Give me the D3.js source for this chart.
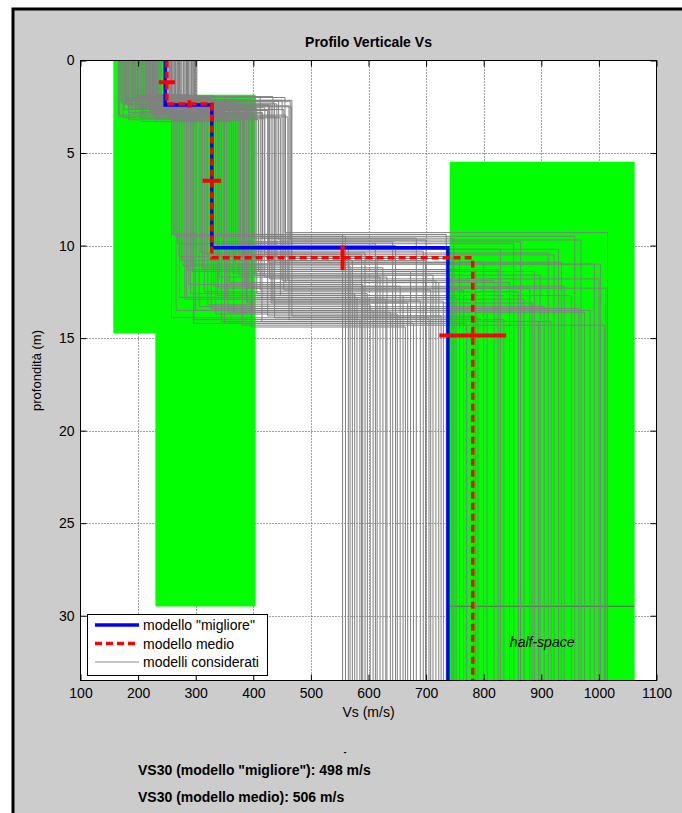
<!DOCTYPE html>
<html>
<head>
<meta charset="utf-8">
<script src="https://cdn.jsdelivr.net/npm/d3@7"></script>
<style>
  html, body { margin: 0; background: #ffffff; overflow: hidden; }
  svg { display: block; }
  svg text { font-family: "Liberation Sans", Arial, sans-serif; }
</style>
</head>
<body>
<div id="chart"></div>
<script>
// ticks
const xTicks = [100, 200, 300, 400, 500, 600, 700, 800, 900, 1000, 1100];
const yTicks = [0, 5, 10, 15, 20, 25, 30];

// search-space bands (green)
const bandVsMin = [157, 230, 741];
const bandVsMax = [245, 404, 1062];
const bandTop = [0, 1.85, 5.47];
const bandBottom = [14.75, 29.5, 33.5];

// best model and mean model (Vs per layer, interface depths)
const bestVs = [247, 328, 738];
const bestDepth = [2.4, 10.12];
const meanVs = [250, 328, 781];
const meanDepth = [2.35, 10.66];

// error bars on mean model
const vsErrDepth = [1.17, 6.5, 14.86];
const vsErr = [14, 16, 58];
const depthErrVs = [289, 555];
const depthErr = [0.2, 0.67];

// considered models: Vs of layer 1, depth of interface 1, Vs layer 2, depth interface 2, Vs half-space
const vs1 = [172, 180, 188, 195, 203, 210, 218, 225, 232, 238, 255, 262, 270, 278, 285, 292, 300, 176, 184, 192, 199, 207, 214, 221, 229, 236, 258, 266, 274, 281, 288, 296, 168, 190, 205, 228, 260, 275, 290, 183, 215, 240, 265, 298, 178, 200, 222, 250,
             170, 174, 186, 194, 198, 206, 212, 220, 226, 234, 252, 258, 268, 272, 283, 287, 294, 302, 166, 182, 196, 209, 217, 224, 231, 256, 263, 279, 286, 299, 175, 189, 201, 213, 227, 254, 269, 284, 293, 171];
const d1 = [2.1, 2.4, 1.9, 2.8, 3.1, 2.2, 2.6, 2.0, 3.3, 2.5, 2.3, 2.9, 1.95, 2.7, 3.0, 2.15, 2.45, 2.65, 3.2, 2.05, 2.35, 2.75, 1.9, 2.55, 3.05, 2.25, 2.85, 2.0, 2.6, 3.15, 2.4, 2.2, 2.95, 2.5, 1.88, 2.7, 3.25, 2.3, 2.1, 2.8, 2.45, 2.0, 3.0, 2.6, 2.35, 1.95, 2.9, 2.55,
            2.2, 3.1, 2.6, 1.9, 2.4, 3.3, 2.0, 2.7, 2.9, 2.3, 3.0, 2.5, 2.1, 3.2, 2.8, 1.95, 2.35, 2.65, 3.05, 2.15, 2.55, 2.95, 1.85, 2.45, 3.15, 2.05, 2.75, 2.25, 3.25, 2.6, 2.0, 2.85, 2.4, 3.1, 2.2, 2.7, 1.9, 2.5, 3.0, 2.3];
const vs2 = [262, 275, 288, 300, 312, 325, 338, 350, 362, 375, 388, 400, 412, 425, 438, 450, 462, 268, 281, 294, 306, 318, 331, 344, 356, 369, 381, 394, 406, 419, 431, 444, 456, 466, 258, 285, 315, 345, 372, 398, 428, 455, 272, 302, 335, 365, 392, 420,
             264, 278, 291, 297, 309, 321, 334, 341, 353, 366, 378, 385, 397, 409, 416, 434, 441, 453, 460, 467, 259, 271, 284, 296, 311, 327, 348, 359, 377, 389, 403, 415, 426, 447, 464, 266, 292, 339, 383, 437];
const d2 = [9.4, 10.8, 12.1, 13.5, 11.2, 9.8, 12.7, 14.2, 10.3, 11.6, 13.0, 9.6, 12.4, 13.8, 10.9, 11.9, 14.0, 9.9, 12.9, 11.4, 13.3, 10.5, 12.2, 9.5, 13.6, 11.0, 14.3, 10.1, 12.6, 11.7, 13.1, 9.7, 12.0, 10.7, 13.9, 11.3, 12.5, 14.1, 10.2, 13.4, 11.8, 9.3, 12.8, 10.6, 13.7, 11.5, 12.3, 10.4,
            9.5, 11.1, 12.6, 14.0, 10.4, 13.2, 9.9, 11.7, 12.9, 13.6, 10.0, 12.2, 14.4, 11.4, 9.6, 13.0, 10.8, 12.4, 11.9, 13.8, 9.4, 10.6, 12.8, 14.2, 11.3, 13.4, 10.2, 12.0, 9.8, 13.1, 11.6, 14.1, 10.9, 12.7, 9.7, 13.5, 11.0, 12.3, 10.5, 13.9];
const vs3 = [555, 572, 590, 608, 625, 642, 660, 678, 695, 712, 730, 748, 765, 782, 800, 818, 835, 852, 870, 888, 905, 922, 940, 958, 975, 992, 1010, 565, 598, 632, 668, 700, 722, 758, 790, 825, 860, 895, 930, 965, 1000, 1015, 580, 615, 650, 740, 880, 912,
             560, 568, 576, 585, 594, 603, 612, 620, 630, 638, 647, 655, 664, 673, 683, 690, 699, 708, 717, 726, 735, 745, 752, 770, 786, 806, 829, 845, 864, 884, 898, 917, 935, 952, 969, 985, 1003, 1012, 588, 705];

const legendLabels = ['modello "migliore"', "modello medio", "modelli considerati"];
const vs30Lines = ['VS30 (modello "migliore"): 498 m/s', "VS30 (modello medio): 506 m/s"];

function init() {
    var width = 682, height = 813;
    var left = 80.5, right = 656.5, top = 60.5, bottom = 680.5;

    var svg = d3.select("#chart").append("svg")
        .attr("width", width)
        .attr("height", height);

    // figure background and frame
    svg.append("rect").attr("x", 13).attr("y", 9).attr("width", 680).attr("height", 820)
        .attr("fill", "#cccccc").attr("stroke", "#000").attr("stroke-width", 3);

    var x = d3.scaleLinear().domain([100, 1100]).range([left, right]);
    var y = d3.scaleLinear().domain([0, 33.5]).range([top, bottom]);

    svg.append("rect").attr("x", left).attr("y", top)
        .attr("width", right - left).attr("height", bottom - top).attr("fill", "#fff");

    svg.append("clipPath").attr("id", "clip").append("rect")
        .attr("x", left).attr("y", top).attr("width", right - left).attr("height", bottom - top);

    // grid
    var grid = svg.append("g").attr("stroke", "#444").attr("stroke-dasharray", "1,2").attr("stroke-width", 1);
    grid.selectAll(".gx").data(xTicks.slice(1, -1)).enter().append("line")
        .attr("x1", d => Math.round(x(d)) + 0.5).attr("x2", d => Math.round(x(d)) + 0.5)
        .attr("y1", top).attr("y2", bottom);
    grid.selectAll(".gy").data(yTicks.slice(1)).enter().append("line")
        .attr("y1", d => Math.round(y(d)) + 0.5).attr("y2", d => Math.round(y(d)) + 0.5)
        .attr("x1", left).attr("x2", right);

    var plot = svg.append("g").attr("clip-path", "url(#clip)");

    // green bands
    plot.selectAll(".band").data(bandVsMin).enter().append("rect")
        .attr("x", (d, i) => x(d))
        .attr("y", (d, i) => y(bandTop[i]))
        .attr("width", (d, i) => x(bandVsMax[i]) - x(d))
        .attr("height", (d, i) => y(bandBottom[i]) - y(bandTop[i]))
        .attr("fill", "#00ff00");

    plot.append("line")
        .attr("x1", x(bandVsMin[2])).attr("x2", x(bandVsMax[2]))
        .attr("y1", y(bandBottom[1])).attr("y2", y(bandBottom[1]))
        .attr("stroke", "#4f7f4f").attr("stroke-width", 1.2);

    // considered models
    var line = d3.line().x(d => x(d[0])).y(d => y(d[1]));
    function profile(v, d) {
        return [[v[0], 0], [v[0], d[0]], [v[1], d[0]], [v[1], d[1]], [v[2], d[1]], [v[2], 33.5]];
    }
    var models = vs1.map((v, i) => profile([v, vs2[i], vs3[i]], [d1[i], d2[i]]));
    plot.selectAll(".model").data(models).enter().append("path")
        .attr("d", line).attr("fill", "none")
        .attr("stroke", "#808080").attr("stroke-width", 1);

    plot.append("text")
        .attr("x", x((bandVsMin[2] + bandVsMax[2]) / 2)).attr("y", y(31.7))
        .attr("text-anchor", "middle").attr("font-size", 14).attr("font-style", "italic")
        .text("half-space");

    // best model
    plot.append("path").datum(profile(bestVs, bestDepth))
        .attr("d", line).attr("fill", "none")
        .attr("stroke", "#0000ff").attr("stroke-width", 3.5);

    // mean model
    plot.append("path").datum(profile(meanVs, meanDepth))
        .attr("d", line).attr("fill", "none")
        .attr("stroke", "#ff0000").attr("stroke-width", 3.5)
        .attr("stroke-dasharray", "7,4");

    // error bars
    plot.selectAll(".vsErr").data(meanVs).enter().append("line")
        .attr("x1", (d, i) => x(d - vsErr[i])).attr("x2", (d, i) => x(d + vsErr[i]))
        .attr("y1", (d, i) => y(vsErrDepth[i])).attr("y2", (d, i) => y(vsErrDepth[i]))
        .attr("stroke", "#ff0000").attr("stroke-width", 4);
    plot.selectAll(".dErr").data(meanDepth).enter().append("line")
        .attr("x1", (d, i) => x(depthErrVs[i])).attr("x2", (d, i) => x(depthErrVs[i]))
        .attr("y1", (d, i) => y(d - depthErr[i])).attr("y2", (d, i) => y(d + depthErr[i]))
        .attr("stroke", "#ff0000").attr("stroke-width", 4);

    // axes
    svg.append("rect").attr("x", left).attr("y", top)
        .attr("width", right - left).attr("height", bottom - top)
        .attr("fill", "none").attr("stroke", "#000").attr("stroke-width", 1);

    var fmt = d3.format("d");
    var xb = svg.append("g").attr("transform", `translate(0,${bottom})`)
        .call(d3.axisBottom(x).tickValues(xTicks).tickFormat(fmt).tickSizeInner(-6).tickSizeOuter(0).tickPadding(8));
    var xt = svg.append("g").attr("transform", `translate(0,${top})`)
        .call(d3.axisTop(x).tickValues(xTicks).tickSizeInner(-6).tickSizeOuter(0).tickFormat(""));
    var yl = svg.append("g").attr("transform", `translate(${left},0)`)
        .call(d3.axisLeft(y).tickValues(yTicks).tickFormat(fmt).tickSizeInner(-6).tickSizeOuter(0).tickPadding(6));
    var yr = svg.append("g").attr("transform", `translate(${right},0)`)
        .call(d3.axisRight(y).tickValues(yTicks).tickSizeInner(-6).tickSizeOuter(0).tickFormat(""));
    [xb, xt, yl, yr].forEach(function(g) {
        g.select(".domain").remove();
        g.selectAll("text").attr("font-size", 14).attr("fill", "#000")
            .style("font-family", '"Liberation Sans", Arial, sans-serif');
    });

    svg.append("text").attr("x", (left + right) / 2).attr("y", 47)
        .attr("text-anchor", "middle").attr("font-size", 14).attr("font-weight", "bold")
        .text("Profilo Verticale Vs");
    svg.append("text").attr("x", (left + right) / 2).attr("y", 717)
        .attr("text-anchor", "middle").attr("font-size", 14)
        .text("Vs (m/s)");
    svg.append("text").attr("transform", `translate(41,${(top + bottom) / 2}) rotate(-90)`)
        .attr("text-anchor", "middle").attr("font-size", 13)
        .text("profondità (m)");

    // legend
    var lg = svg.append("g");
    lg.append("rect").attr("x", 87.5).attr("y", 614.5).attr("width", 180).attr("height", 61)
        .attr("fill", "#fff").attr("stroke", "#000").attr("stroke-width", 1);
    var legStroke = ["#0000ff", "#ff0000", "#8a8a8a"];
    var legWidth = [3.5, 3.5, 1];
    var legDash = [null, "7,4", null];
    legendLabels.forEach(function(t, i) {
        var ly = 625 + i * 18.5;
        lg.append("line").attr("x1", 95).attr("x2", 139).attr("y1", ly).attr("y2", ly)
            .attr("stroke", legStroke[i]).attr("stroke-width", legWidth[i])
            .attr("stroke-dasharray", legDash[i]);
        lg.append("text").attr("x", 143).attr("y", ly + 5).attr("font-size", 14).text(t);
    });

    // bottom notes
    svg.append("text").attr("x", 345).attr("y", 755).attr("text-anchor", "middle")
        .attr("font-size", 9).attr("font-weight", "bold").text("-");
    vs30Lines.forEach(function(t, i) {
        svg.append("text").attr("x", 138).attr("y", 775 + i * 27)
            .attr("font-size", 14).attr("font-weight", "bold").text(t);
    });
}

init();
</script>
</body>
</html>
